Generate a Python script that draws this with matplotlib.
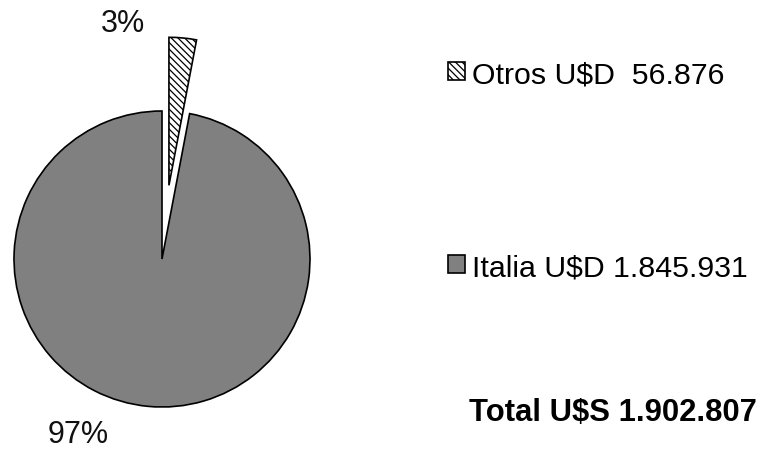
import matplotlib
matplotlib.use("Agg")
import matplotlib.pyplot as plt

# Export destinations (U$D)
categories = ["Otros", "Italia"]
values = [56876, 1845931]
legend_labels = [r"Otros U\$D  56.876", r"Italia U\$D 1.845.931"]
total_label = r"Total U\$S 1.902.807"

plt.rcParams["font.family"] = ["Liberation Sans", "DejaVu Sans"]
plt.rcParams["hatch.linewidth"] = 0.9

W, H = 763, 452
fig = plt.figure(figsize=(W / 100, H / 100), dpi=100)
ax = fig.add_axes([0, 0, 1, 1])

# pie centre and radius in pixels
cx, cy, r = 162, 260, 148

wedges, _ = ax.pie(
    values,
    startangle=90,
    counterclock=False,
    explode=[0.5, 0.0],
    colors=["white", "#808080"],
    wedgeprops=dict(edgecolor="black", linewidth=1.2),
)
wedges[0].set_hatch("\\\\\\\\\\")

ax.set_xlim(-cx / r, (W - cx) / r)
ax.set_ylim(-(H - cy) / r, cy / r)
ax.set_aspect("auto")
ax.axis("off")

total = sum(values)
pct = [f"{v / total * 100:.0f}%" for v in values]
label_pos_px = [(123, 24), (78, 435)]
for txt, (px, py) in zip(pct, label_pos_px):
    ax.text((px - cx) / r, (cy - py) / r, txt, ha="center", va="center",
            fontsize=22, color="#111111")

leg = ax.legend(
    wedges, legend_labels,
    loc="upper left",
    bbox_to_anchor=(448 / W, 1 - 61 / H),
    bbox_transform=fig.transFigure,
    frameon=False,
    fontsize=21.8,
    handlelength=0.55,
    handleheight=0.55,
    handletextpad=0.25,
    labelspacing=5.45,
    borderpad=0,
    borderaxespad=0,
)

fig.text(757 / W, 1 - 413 / H, total_label, ha="right", va="center",
         fontsize=22.3, fontweight="bold")

fig.savefig("out.png", dpi=100)
